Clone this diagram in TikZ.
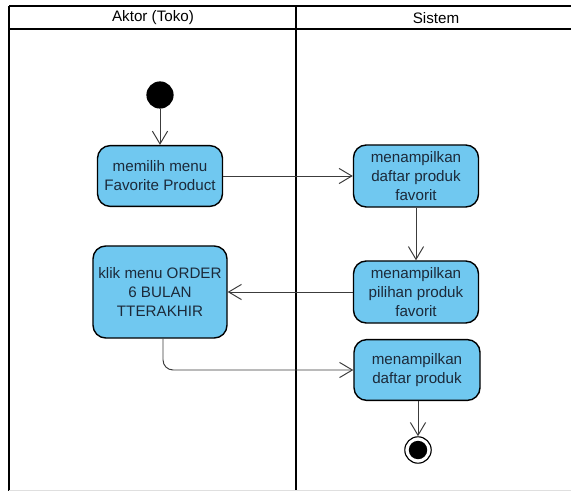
\documentclass[tikz,border=0pt]{standalone}
\usepackage{fontspec}
\setmainfont{Liberation Sans}
\usepackage{xcolor}
\usetikzlibrary{arrows.meta,positioning}
\definecolor{actfill}{RGB}{112,200,240}
\definecolor{acttext}{RGB}{28,42,58}
\definecolor{flowline}{RGB}{60,60,60}

\begin{document}
\begin{tikzpicture}[x=0.025cm, y=-0.025cm,
                   lane/.style={line width=2pt, black},
                   activity/.style={draw=black, line width=1pt, fill=actfill, rounded corners=0.32cm,
                                    align=center, text=acttext, inner sep=2pt,
                                    font=\fontsize{10.8}{13.5}\selectfont},
                   flow/.style={draw=flowline, line width=0.7pt, -{Straight Barb[length=3.2mm, width=3.8mm]}},
                   initial/.style={circle, fill=black, minimum size=0.68cm, inner sep=0pt},
                   final/.style={circle, draw=black, line width=0.8pt, fill=white, minimum size=0.66cm, inner sep=0pt}]
          \useasboundingbox (0,0) rectangle (571,491);
          % swimlanes
          \draw[lane] (9,6) -- (571,6);
          \draw[lane] (9,29) -- (571,29);
          \draw[lane] (9,6) -- (9,491);
          \draw[lane] (296,6) -- (296,491);
          \draw[gray!25, line width=0.6pt] (9,490) -- (571,490);
          \node[font=\fontsize{10.8}{12}\selectfont] (aktor) at (153,18) {Aktor (Toko)};
          \node[font=\fontsize{10.8}{12}\selectfont] (sistem) at (436,18) {Sistem};
          % activities
          \node[initial] (start) at (160,95) {};
          \node[activity, minimum width=3.125cm, minimum height=1.52cm] (pilih) at (160,176) {memilih menu\\Favorite Product};
          \node[activity, minimum width=3.125cm, minimum height=1.55cm] (daftarfav) at (416,176) {menampilkan\\daftar produk\\favorit};
          \node[activity, minimum width=3.125cm, minimum height=1.55cm] (pilihan) at (416,292) {menampilkan\\pilihan produk\\favorit};
          \node[activity, minimum width=3.35cm, minimum height=2.3cm] (klik) at (160,292) {klik menu ORDER\\6 BULAN\\TTERAKHIR};
          \node[activity, minimum width=3.15cm, minimum height=1.52cm] (daftar) at (417,370) {menampilkan\\daftar produk};
          \node[final] (stop) at (418,450) {};
          \fill (stop) circle (0.23cm);
          % flows
          \draw[flow] (start) -- (pilih);
          \draw[flow] (pilih) -- (daftarfav);
          \draw[flow] (daftarfav) -- (pilihan);
          \draw[flow] (pilihan) -- (klik);
          \draw[flow, rounded corners=0.25cm] (klik.south -| 163,0) |- (daftar.west);
          \draw[flow] (daftar.south -| stop) -- (stop);
        \end{tikzpicture}
\end{document}
